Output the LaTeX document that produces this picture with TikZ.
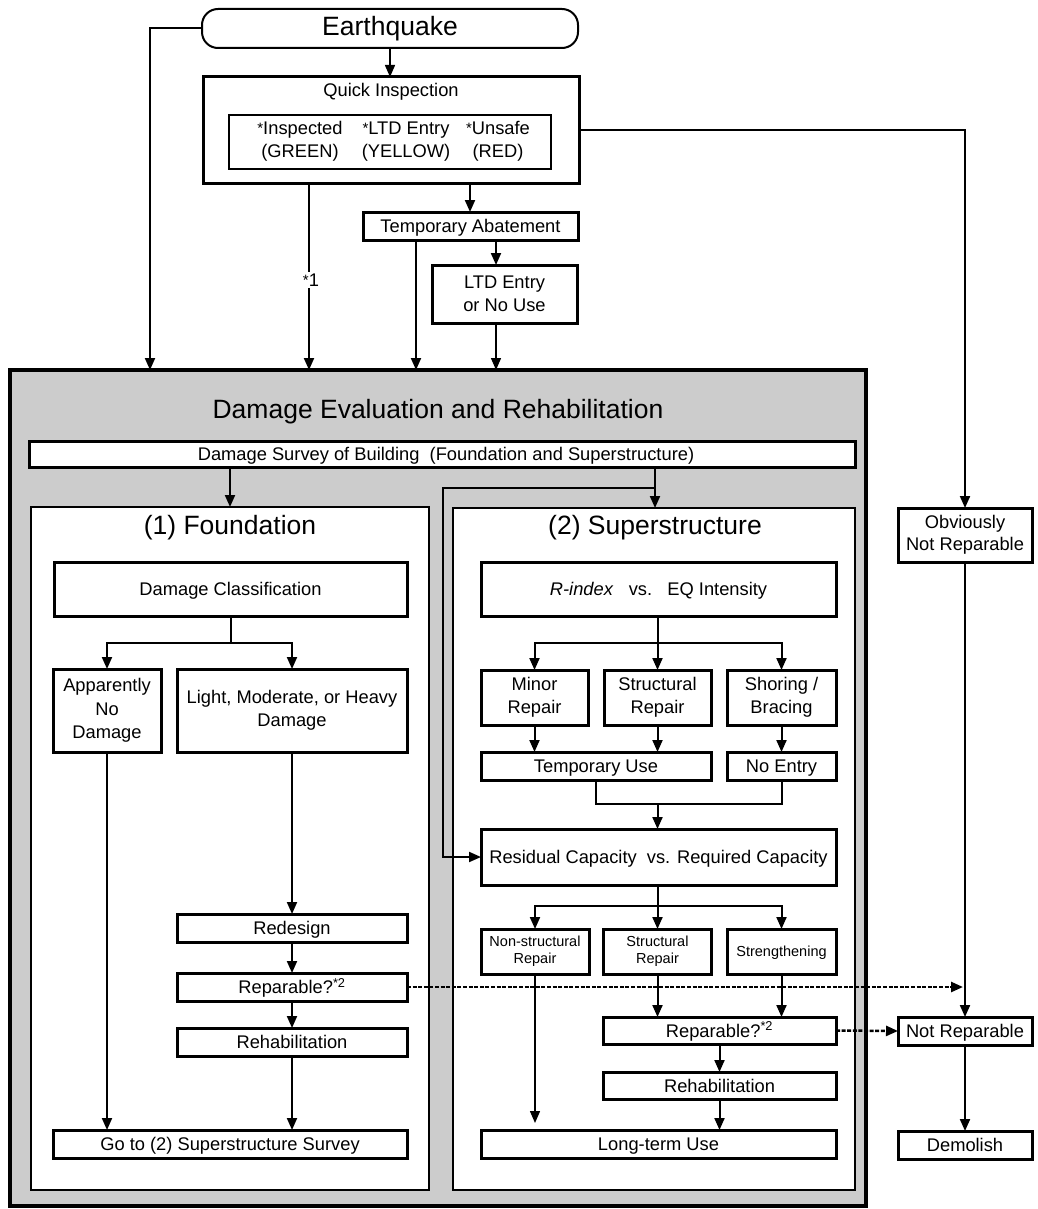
\documentclass[tikz,border=0pt]{standalone}
\usepackage{fontspec}
\setmainfont{Liberation Sans}
\usetikzlibrary{arrows.meta}
\definecolor{panelgray}{RGB}{204,204,204}
\newcommand{\myast}{\raisebox{1pt}{\fontsize{15}{15}\selectfont *}}
\newcommand{\bodyfont}{\fontsize{18.3}{22.5}\selectfont}
\newcommand{\bigfont}{\fontsize{26.5}{30}\selectfont}
\newcommand{\smallfont}{\fontsize{14.5}{17}\selectfont}
\begin{document}
\begin{tikzpicture}[x=1pt,y=-1pt,
  box/.style={draw, line width=3pt, fill=white, inner sep=0pt, outer sep=0pt, align=center, font=\bodyfont},
  oneline/.style={text height=15pt, text depth=2pt},
  smallbox/.style={box, font=\smallfont},
  panel/.style={draw, line width=2.5pt, fill=white, inner sep=0pt, outer sep=0pt},
  txt/.style={font=\bodyfont, align=center, inner sep=1pt},
  title/.style={font=\bigfont, inner sep=1pt},
  conn/.style={line width=2pt},
  arr/.style={line width=2pt, -{Triangle[length=12pt,width=10pt]}},
  thinarr/.style={line width=1.4pt, -{Triangle[length=12pt,width=10pt]}},
  dasharr/.style={line width=2.5pt, dash pattern=on 4pt off 1.6pt, -{Triangle[length=12pt,width=10pt]}}
]
\useasboundingbox (0,0) rectangle (1037,1209);

% ---------- top part ----------
\node[box, line width=2pt, rounded corners=16pt, minimum width=376pt, minimum height=39pt, font=\bigfont] (eq) at (390,28.5) {Earthquake};
\node[box, minimum width=376pt, minimum height=107pt] (qi) at (391,130.5) {};
\node[txt] (qit) at (391,92) {Quick Inspection};
\node[box, line width=2.5pt, minimum width=322pt, minimum height=54pt] (qin) at (390,142) {};
\node[txt] (c1) at (300,141.5) {\myast Inspected\\(GREEN)};
\node[txt] (c2) at (406,141.5) {\myast LTD Entry\\(YELLOW)};
\node[txt] (c3) at (498,141.5) {\myast Unsafe\\(RED)};
\node[box, oneline, minimum width=215pt, minimum height=28pt] (ta) at (470.5,226) {Temporary Abatement};
\node[box, minimum width=145pt, minimum height=58pt] (ltd) at (504.5,294) {LTD Entry\\or No Use};

% ---------- main panel ----------
\node[draw, line width=4pt, fill=panelgray, inner sep=0pt, outer sep=0pt, minimum width=856pt, minimum height=836pt] (main) at (438,788) {};
\node[title] (mt) at (438,412) {Damage Evaluation and Rehabilitation};
\node[box, oneline, minimum width=826pt, minimum height=26pt] (survey) at (442,454) {\hspace{8pt}Damage Survey of Building~~(Foundation and Superstructure)};

\node[panel, minimum width=398pt, minimum height=683pt] (found) at (230,848.5) {};
\node[title] (ftitle) at (230,528) {(1) Foundation};
\node[panel, minimum width=402pt, minimum height=682pt] (super) at (654,849) {};
\node[title] (stitle) at (655,528) {(2) Superstructure};

% ---------- foundation ----------
\node[box, oneline, minimum width=353pt, minimum height=54pt] (dc) at (230.5,589) {Damage Classification};
\node[box, minimum width=108pt, minimum height=83pt, font=\fontsize{18.3}{23.3}\selectfont] (and) at (107,710.5) {Apparently\\No\\Damage};
\node[box, minimum width=230pt, minimum height=83pt] (lmh) at (292,710.5) {Light, Moderate, or Heavy\\Damage};
\node[box, oneline, minimum width=230pt, minimum height=28pt] (redesign) at (292,928) {Redesign};
\node[box, oneline, minimum width=230pt, minimum height=28pt] (repa) at (292,987) {Reparable?\textsuperscript{*2}};
\node[box, oneline, minimum width=230pt, minimum height=28pt] (reha) at (292,1042) {Rehabilitation};
\node[box, oneline, minimum width=354pt, minimum height=28pt] (goto) at (230,1144) {Go to (2) Superstructure Survey};

% ---------- superstructure ----------
\node[box, oneline, minimum width=355pt, minimum height=54pt] (ri) at (658.5,589) {\textit{R-index}~~~vs.~~~EQ Intensity};
\node[box, minimum width=107pt, minimum height=55pt] (minor) at (534.5,697.5) {Minor\\Repair};
\node[box, minimum width=107pt, minimum height=55pt] (sra) at (657.5,697.5) {Structural\\Repair};
\node[box, minimum width=109pt, minimum height=55pt] (shore) at (781.5,697.5) {Shoring /\\Bracing};
\node[box, oneline, minimum width=230pt, minimum height=28pt] (tu) at (596,766) {Temporary Use};
\node[box, oneline, minimum width=109pt, minimum height=28pt] (ne) at (781.5,766) {No Entry};
\node[box, oneline, minimum width=355pt, minimum height=56pt] (resid) at (658.5,857) {Residual Capacity~~vs. Required Capacity};
\node[smallbox, minimum width=108pt, minimum height=45pt] (ns) at (535,951.5) {Non-structural\\Repair};
\node[smallbox, minimum width=108pt, minimum height=45pt] (srb) at (657.5,951.5) {Structural\\Repair};
\node[smallbox, text height=12pt, text depth=2pt, minimum width=109pt, minimum height=45pt] (stg) at (781.5,951.5) {Strengthening};
\node[box, oneline, minimum width=233pt, minimum height=27pt] (repb) at (719.5,1030.5) {Reparable?\textsuperscript{*2}};
\node[box, oneline, minimum width=233pt, minimum height=27pt] (rehb) at (719.5,1085.5) {Rehabilitation};
\node[box, oneline, minimum width=355pt, minimum height=28pt] (lt) at (658.5,1144) {Long-term Use};

% ---------- right column ----------
\node[box, minimum width=134pt, minimum height=54pt] (onm) at (965,535) {Obviously\\Not Reparable};
\node[box, oneline, minimum width=134pt, minimum height=28pt] (nr) at (965,1031) {Not Reparable};
\node[box, oneline, minimum width=134pt, minimum height=28pt] (dem) at (965,1145) {Demolish};

% ---------- coordinates ----------
\coordinate (sj) at (655,488);
\coordinate (lj) at (443,857);
\coordinate (fj) at (230.5,643);
\coordinate (rj) at (657.5,643);
\coordinate (mj) at (657.5,804);
\coordinate (cj) at (657.5,906);
\coordinate (dtip) at (963,987);

% ---------- connectors: top ----------
\draw[arr] (eq.west) -| (main.north -| 150,0);
\draw[arr, line width=1.5pt] (eq.south) -- (eq.south |- qi.north);
\draw[arr] (qi.south -| 309,0) -- (main.north -| 309,0);
\node[fill=white, inner sep=1.5pt, font=\bodyfont] (n1) at (311,280) {\myast 1};
\draw[arr] (qi.south -| 470,0) -- (ta.north -| 470,0);
\draw[arr] (ta.south -| 416,0) -- (main.north -| 416,0);
\draw[arr] (ta.south -| 496,0) -- (ltd.north -| 496,0);
\draw[thinarr] (ltd.south -| 496,0) -- (main.north -| 496,0);
\draw[arr] (qi.east) -| (onm.north);

% ---------- connectors: survey ----------
\draw[arr] (survey.south -| found.north) -- (found.north);
\draw[arr] (survey.south -| sj) -- (super.north -| sj);
\draw[arr] (sj) -| (lj) -- (resid.west);

% ---------- connectors: foundation ----------
\draw[conn] (dc.south) -- (fj);
\draw[arr] (fj) -| (and.north);
\draw[arr] (fj) -| (lmh.north);
\draw[arr] (and.south) -- (and.south |- goto.north);
\draw[arr] (lmh.south) -- (redesign.north);
\draw[arr] (redesign.south) -- (repa.north);
\draw[arr] (repa.south) -- (reha.north);
\draw[arr] (reha.south) -- (reha.south |- goto.north);

% ---------- connectors: superstructure ----------
\draw[conn] (ri.south -| rj) -- (rj);
\draw[arr] (rj) -| (minor.north);
\draw[arr] (rj) -- (sra.north);
\draw[arr] (rj) -| (shore.north);
\draw[arr] (minor.south) -- (minor.south |- tu.north);
\draw[arr] (sra.south) -- (sra.south |- tu.north);
\draw[arr] (shore.south) -- (ne.north);
\draw[conn] (tu.south) |- (ne.south |- mj) -- (ne.south);
\draw[arr] (mj) -- (mj |- resid.north);
\draw[conn] (resid.south -| cj) -- (cj);
\draw[arr] (cj) -| (ns.north);
\draw[arr] (cj) -- (srb.north);
\draw[arr] (cj) -| (stg.north);
\draw[thinarr, shorten >=7pt] (ns.south) -- (ns.south |- lt.north);
\draw[arr] (srb.south) -- (srb.south |- repb.north);
\draw[arr] (stg.south) -- (stg.south |- repb.north);
\draw[arr] (repb.south) -- (rehb.north);
\draw[arr] (rehb.south) -- (rehb.south |- lt.north);

% ---------- connectors: right column ----------
\draw[arr] (onm.south) -- (nr.north);
\draw[arr] (nr.south) -- (dem.north);
\draw[dasharr] (repa.east) -- (dtip);
\draw[dasharr] (repb.east) -- (nr.west);
\end{tikzpicture}
\end{document}
